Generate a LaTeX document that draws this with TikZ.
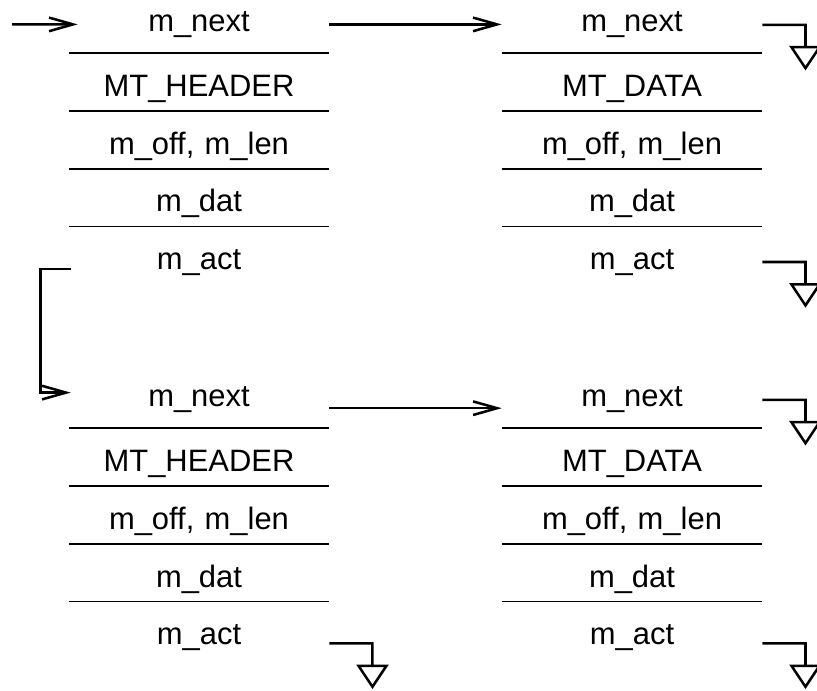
\documentclass[tikz,border=0pt]{standalone}
\usepackage{fontspec}
\setmainfont{Liberation Sans}
\usetikzlibrary{arrows.meta}

\begin{document}
\begin{tikzpicture}[
  field/.style={anchor=base, inner sep=0pt, text width=6.5cm, align=center,
    font=\fontsize{22}{26}\selectfont},
  sep/.style={line width=1pt},
  link/.style={line width=1.8pt, -{Straight Barb[length=0.6cm, width=0.34cm]}},
  gnd/.style={line width=1.8pt}
]
  % fix the page size
  \useasboundingbox (0,0) rectangle (20.425,17.25);

  % the four blocks: name / centre x / baseline of m_next / type
  \foreach \blk/\x/\y/\typ in {A/4.975/16.45/MT\_HEADER, B/15.8/16.45/MT\_DATA,
                               C/4.975/7.075/MT\_HEADER, D/15.8/7.075/MT\_DATA} {
    \node[field] (\blk0) at (\x,\y) {m\_next};
    \foreach \f [count=\k] in {\typ, {m\_off, m\_len}, m\_dat, m\_act} {
      \pgfmathsetmacro\yy{\y-1.62-1.44*(\k-1)}
      \node[field] (\blk\k) at (\x,\yy) {\f};
    }
    % separators
    \draw[sep] ([yshift=-0.525cm]\blk0.base west) -- ([yshift=-0.525cm]\blk0.base east);
    \foreach \k in {1,2,3}
    \draw[sep] ([yshift=-0.36cm]\blk\k.base west) -- ([yshift=-0.36cm]\blk\k.base east);
  }

  % links between the blocks
  \coordinate (in) at (0.3,16.64);
  \draw[link] (in) -- ([shift={(0.225,0.19)}]A0.base west);
  \draw[link] ([yshift=0.19cm]A0.base east) -- ([yshift=0.19cm]B0.base west);
  \draw[link] ([shift={(0.05,0.02)}]A4.base west) -- ++(-0.76,0)
    |- ([shift={(0.05,0.36)}]C0.base west);
  \draw[link] ([yshift=-0.03cm]C0.base east) -- ([yshift=-0.03cm]D0.base west);

  % ground symbols for the empty pointers
  \foreach \n/\dy in {B0/0.18, B4/0.19, D0/0.18, C4/0.03, D4/0.03}
  \draw[gnd] ([yshift=\dy cm]\n.base east) -- ++(1.08,0) -- ++(0,-0.56)
    ++(-0.35,0) -- ++(0.7,0) -- ++(-0.35,-0.525) -- cycle;
\end{tikzpicture}
\end{document}
